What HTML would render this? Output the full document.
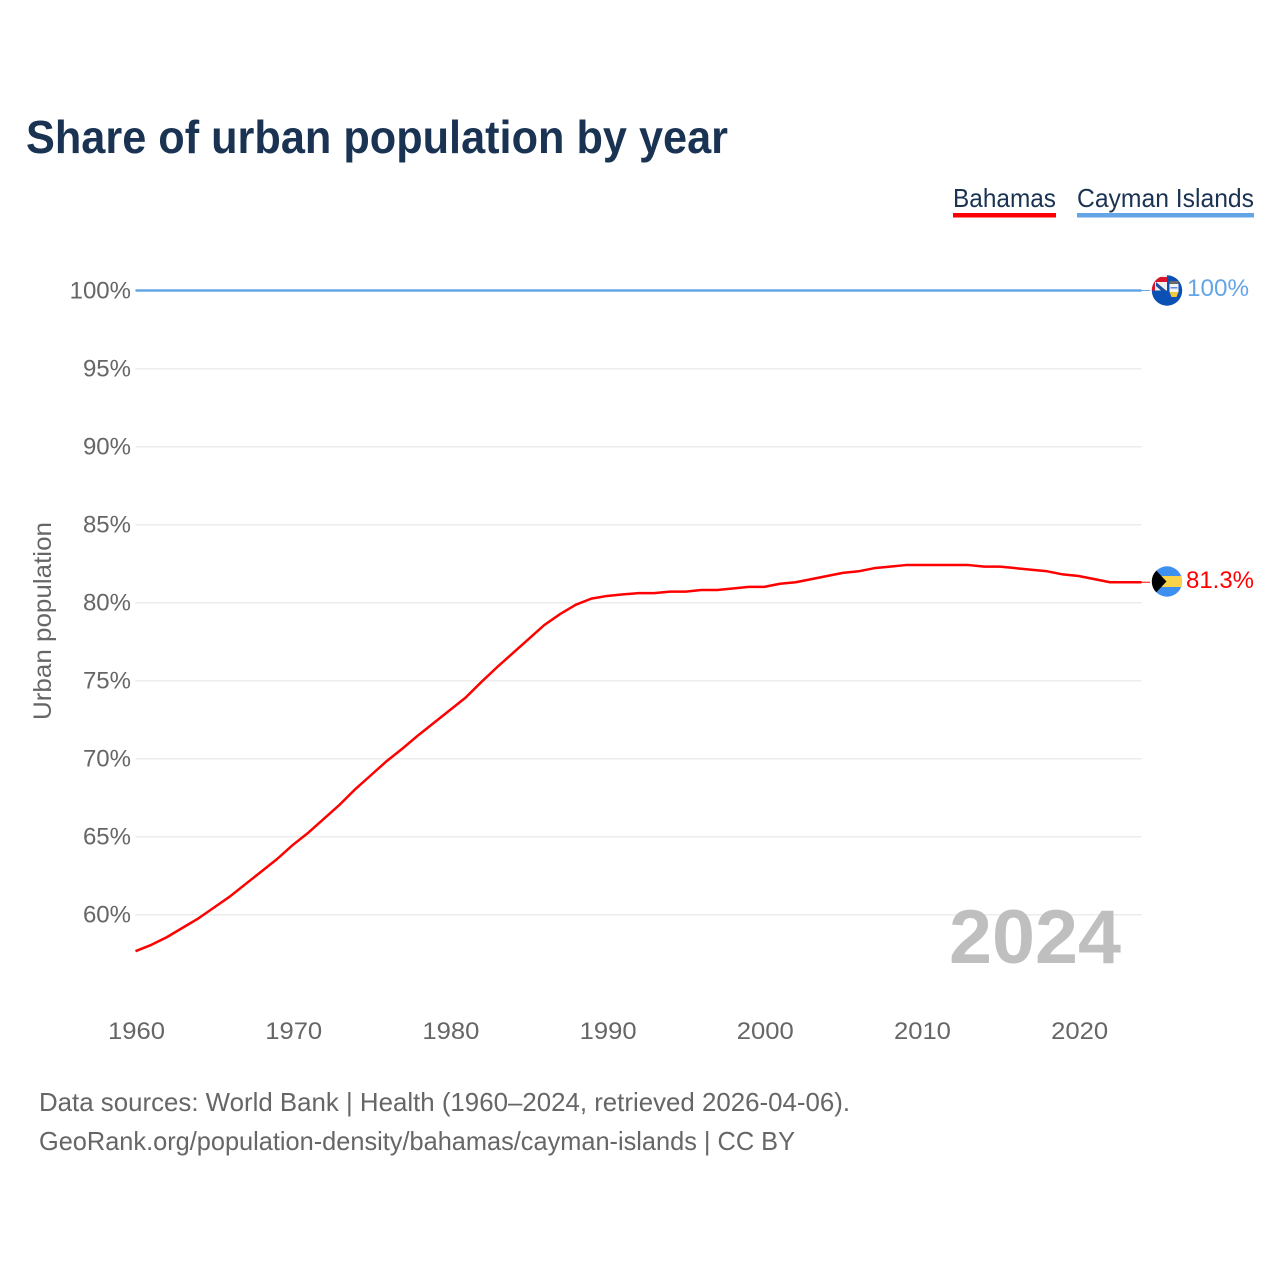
<!DOCTYPE html>
<html lang="en">
<head>
<meta charset="utf-8">
<title>Share of urban population by year</title>
<style>
html,body{margin:0;padding:0;background:#fff;width:1280px;height:1280px;overflow:hidden}
svg{display:block}
text{font-family:"Liberation Sans",sans-serif}
</style>
</head>
<body>
<svg id="chart" width="1280" height="1280" viewBox="0 0 1280 1280" xmlns="http://www.w3.org/2000/svg">
  <defs>
    <clipPath id="flag-clip-ky"><circle cx="1167" cy="290.5" r="15.2"/></clipPath>
    <clipPath id="flag-clip-bs"><circle cx="1167" cy="581.5" r="15.2"/></clipPath>
  </defs>
  <rect width="1280" height="1280" fill="#fff"/>
  <text x="26" y="153" font-size="46" font-weight="700" fill="#1a3353" textLength="702" lengthAdjust="spacingAndGlyphs">Share of urban population by year</text>

  <g>
    <g>
      <text x="953" y="207" font-size="26" fill="#1a3353" textLength="103" lengthAdjust="spacingAndGlyphs">Bahamas</text>
      <rect x="953" y="213" width="103" height="4.5" fill="#ff0000"/>
    </g>
    <g>
      <text x="1077" y="207" font-size="26" fill="#1a3353" textLength="177" lengthAdjust="spacingAndGlyphs">Cayman Islands</text>
      <rect x="1077" y="213" width="177" height="4.5" fill="#64a5e8"/>
    </g>
  </g>

  <g id="grid"></g>
  <g id="y-axis"></g>
  <g id="x-axis"></g>
  <text transform="translate(51,720) rotate(-90)" font-size="25" fill="#666" textLength="198" lengthAdjust="spacingAndGlyphs">Urban population</text>
  <text x="949" y="963" font-size="76" font-weight="700" fill="#bfbfbf" textLength="172" lengthAdjust="spacingAndGlyphs">2024</text>
  <g id="series"></g>

  <g clip-path="url(#flag-clip-ky)">
    <rect x="1151" y="275" width="32" height="32" fill="#0b50b4"/>
    <rect x="1151" y="275" width="16" height="15.5" fill="#f0f0f0"/>
    <rect x="1151" y="277" width="16" height="5" fill="#d9142b"/>
    <rect x="1151" y="277" width="4" height="13.5" fill="#d9142b"/>
    <path d="M1156 282 L1166 290.500 L1161 290.500 L1156 286 Z" fill="#1a4ea0"/>
    <path d="M1160 282 L1167 282 L1167 288 Z" fill="#f0f0f0"/>
    <rect x="1169.500" y="281" width="9" height="3" fill="#6a6a6a"/>
    <rect x="1169.500" y="284" width="9" height="8" fill="#f4f4f4"/>
    <rect x="1170.500" y="287" width="7" height="1.500" fill="#5a90d8"/>
    <path d="M1169.500 292 L1178.500 292 L1176.500 297 L1171.500 297 Z" fill="#f0c93a"/>
  </g>
  <text x="1187" y="296" font-size="24.500" fill="#64a5e8" textLength="62" lengthAdjust="spacingAndGlyphs">100%</text>

  <g clip-path="url(#flag-clip-bs)">
    <rect x="1151" y="566" width="32" height="32" fill="#3d8ff0"/>
    <rect x="1151" y="576" width="32" height="11" fill="#fad24a"/>
    <path d="M1151 565 L1166.500 581.500 L1151 598 Z" fill="#000"/>
  </g>
  <text x="1186" y="588" font-size="24.500" fill="#ff0000" textLength="68" lengthAdjust="spacingAndGlyphs">81.3%</text>

  <text x="39" y="1111" font-size="26" fill="#666" textLength="811" lengthAdjust="spacingAndGlyphs">Data sources: World Bank | Health (1960–2024, retrieved 2026-04-06).</text>
  <text x="39" y="1150" font-size="26" fill="#666" textLength="756" lengthAdjust="spacingAndGlyphs">GeoRank.org/population-density/bahamas/cayman-islands | CC BY</text>
</svg>
<script>
const years = [1960,1961,1962,1963,1964,1965,1966,1967,1968,1969,1970,1971,1972,1973,1974,1975,1976,1977,1978,1979,1980,1981,1982,1983,1984,1985,1986,1987,1988,1989,1990,1991,1992,1993,1994,1995,1996,1997,1998,1999,2000,2001,2002,2003,2004,2005,2006,2007,2008,2009,2010,2011,2012,2013,2014,2015,2016,2017,2018,2019,2020,2021,2022,2023,2024];
const bahamas = [57.65,58.05,58.55,59.15,59.75,60.45,61.15,61.95,62.75,63.55,64.45,65.25,66.15,67.05,68.05,68.95,69.85,70.65,71.5,72.3,73.1,73.9,74.9,75.85,76.75,77.65,78.55,79.25,79.85,80.25,80.42,80.52,80.6,80.6,80.7,80.7,80.8,80.8,80.9,81.0,81.0,81.2,81.3,81.5,81.7,81.9,82.0,82.2,82.3,82.4,82.4,82.4,82.4,82.4,82.3,82.3,82.2,82.1,82.0,81.8,81.7,81.5,81.3,81.3,81.3];
const cayman = [100,100,100,100,100,100,100,100,100,100,100,100,100,100,100,100,100,100,100,100,100,100,100,100,100,100,100,100,100,100,100,100,100,100,100,100,100,100,100,100,100,100,100,100,100,100,100,100,100,100,100,100,100,100,100,100,100,100,100,100,100,100,100,100,100];
const yTicks = [60,65,70,75,80,85,90,95,100];
const xTicks = [1960,1970,1980,1990,2000,2010,2020];

const NS = 'http://www.w3.org/2000/svg';
const xScale = function (yr) { return 135.5 + (yr - 1960) * (1141.5 - 135.5) / 64; };
const yScale = function (v) { return 290.5 + (100 - v) * 15.6; };

const grid = document.getElementById('grid');
const yAxis = document.getElementById('y-axis');
const xAxis = document.getElementById('x-axis');
const series = document.getElementById('series');

yTicks.forEach(function (t) {
  const line = document.createElementNS(NS, 'line');
  
  
  line.setAttribute('x1', xScale(1960));
  line.setAttribute('x2', xScale(2024));
  line.setAttribute('y1', yScale(t) + 0.3);
  line.setAttribute('y2', yScale(t) + 0.3);
  line.setAttribute('stroke', '#ececec');
  line.setAttribute('stroke-width', '1.5');
  grid.appendChild(line);

  const label = document.createElementNS(NS, 'text');
  
  
  label.setAttribute('x', 131);
  label.setAttribute('y', yScale(t) + 8);
  label.setAttribute('text-anchor', 'end');
  label.setAttribute('font-size', '24');
  label.setAttribute('fill', '#666');
  label.textContent = t + '%';
  yAxis.appendChild(label);
});

xTicks.forEach(function (t) {
  const label = document.createElementNS(NS, 'text');
  
  
  label.setAttribute('x', xScale(t) + 1);
  label.setAttribute('y', 1039);
  label.setAttribute('text-anchor', 'middle');
  label.setAttribute('font-size', '24');
  label.setAttribute('fill', '#666');
  label.setAttribute('textLength', '57');
  label.setAttribute('lengthAdjust', 'spacingAndGlyphs');
  label.textContent = t;
  xAxis.appendChild(label);
});

function pathFor(values) {
  return values.map(function (v, i) {
    return (i ? 'L' : 'M') + xScale(years[i]).toFixed(2) + ' ' + yScale(v).toFixed(2);
  }).join(' ');
}

const caymanLeader = document.createElementNS(NS, 'line');


caymanLeader.setAttribute('x1', xScale(2024));
caymanLeader.setAttribute('x2', 1150);
caymanLeader.setAttribute('y1', yScale(cayman[cayman.length - 1]));
caymanLeader.setAttribute('y2', yScale(cayman[cayman.length - 1]));
caymanLeader.setAttribute('stroke', '#64a5e8');
caymanLeader.setAttribute('stroke-width', '1');
series.appendChild(caymanLeader);

const bahamasLeader = document.createElementNS(NS, 'line');


bahamasLeader.setAttribute('x1', xScale(2024));
bahamasLeader.setAttribute('x2', 1150);
bahamasLeader.setAttribute('y1', yScale(bahamas[bahamas.length - 1]));
bahamasLeader.setAttribute('y2', yScale(bahamas[bahamas.length - 1]));
bahamasLeader.setAttribute('stroke', '#ff0000');
bahamasLeader.setAttribute('stroke-width', '1');
series.appendChild(bahamasLeader);

const caymanLine = document.createElementNS(NS, 'path');


caymanLine.setAttribute('d', pathFor(cayman));
caymanLine.setAttribute('fill', 'none');
caymanLine.setAttribute('stroke', '#64a5e8');
caymanLine.setAttribute('stroke-width', '2.5');
series.appendChild(caymanLine);

const bahamasLine = document.createElementNS(NS, 'path');


bahamasLine.setAttribute('d', pathFor(bahamas));
bahamasLine.setAttribute('fill', 'none');
bahamasLine.setAttribute('stroke', '#ff0000');
bahamasLine.setAttribute('stroke-width', '2.5');
bahamasLine.setAttribute('stroke-linejoin', 'round');
series.appendChild(bahamasLine);
</script>
</body>
</html>
